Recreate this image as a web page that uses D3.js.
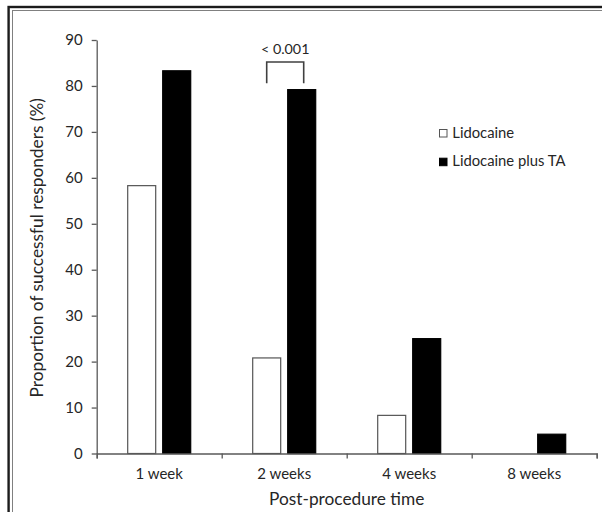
<!DOCTYPE html>
<html><head><meta charset="utf-8">
<script src="https://cdn.jsdelivr.net/npm/d3@7"></script>
<style>body{margin:0;background:#fff} svg{display:block;font-family:Lato,"Open Sans",sans-serif}</style>
</head><body><svg id="chart" width="602" height="512"></svg>
<script>
const categories = ["1 week", "2 weeks", "4 weeks", "8 weeks"];
const seriesNames = ["Lidocaine", "Lidocaine plus TA"];
const lidocaine = [58.3, 20.8, 8.3, 0];
const lidocaineTA = [83.3, 79.2, 25.0, 4.2];
const yTicks = [0, 10, 20, 30, 40, 50, 60, 70, 80, 90];
const yTitle = "Proportion of successful responders (%)";
const xTitle = "Post-procedure time";
const annotationCategory = "2 weeks";
const annotationLabel = "< 0.001";
const annotationLevels = [85.2, 80.6]; // bracket top, bracket leg ends

const svg = d3.select("#chart");
const plot = {left: 96.7, right: 596.7, top: 40, bottom: 453.5};
const axisColor = "#595959", textColor = "#262626";

// frame
svg.append("rect").attr("x", 8.6).attr("y", 7).attr("width", 700).attr("height", 600)
  .attr("fill", "none").attr("stroke", "#1c1c1c").attr("stroke-width", 2.4);
svg.append("rect").attr("x", 12.5).attr("y", 10.5).attr("width", 700).attr("height", 600)
  .attr("fill", "none").attr("stroke", "#808080").attr("stroke-width", 1);

const x = d3.scaleBand().domain(categories).range([plot.left, plot.right])
  .paddingInner(0.496).paddingOuter(0.248);
const xs = d3.scaleBand().domain(seriesNames).range([0, x.bandwidth()]).paddingInner(0.2);
const y = d3.scaleLinear().domain([0, 90]).range([plot.bottom, plot.top]);
const fills = {"Lidocaine": "#fff", "Lidocaine plus TA": "#000"};
const strokes = {"Lidocaine": "#555", "Lidocaine plus TA": "#000"};

const rows = categories.map((c, i) => ({cat: c, vals: [
  {s: seriesNames[0], v: lidocaine[i]}, {s: seriesNames[1], v: lidocaineTA[i]}]}));

const g = svg.append("g");
g.selectAll("g.grp").data(rows).join("g").attr("class", "grp")
  .attr("transform", d => `translate(${x(d.cat)},0)`)
  .selectAll("rect").data(d => d.vals).join("rect")
  .attr("x", d => xs(d.s)).attr("width", xs.bandwidth())
  .attr("y", d => y(d.v)).attr("height", d => y(0) - y(d.v))
  .attr("fill", d => fills[d.s]).attr("stroke", d => strokes[d.s]).attr("stroke-width", 1.2);

// y axis
const ya = svg.append("g").attr("transform", `translate(${plot.left},0)`)
  .call(d3.axisLeft(y).tickValues(yTicks).tickSize(5).tickSizeOuter(0).tickPadding(9));
ya.selectAll("path,line").attr("stroke", axisColor).attr("stroke-width", 1.3);
ya.selectAll("text").attr("fill", textColor).style("font-size", "15px").style("font-family", "Lato");

// x axis: boundary ticks
const xb = d3.scaleLinear().domain([0, categories.length]).range([plot.left, plot.right]);
const xa = svg.append("g").attr("transform", `translate(0,${plot.bottom})`)
  .call(d3.axisBottom(xb).ticks(categories.length).tickFormat("").tickSize(5).tickSizeOuter(5));
xa.selectAll("path,line").attr("stroke", axisColor).attr("stroke-width", 1.3);

const xl = svg.append("g").attr("transform", `translate(0,${plot.bottom})`)
  .call(d3.axisBottom(x).tickSize(0).tickPadding(0));
xl.select(".domain").remove();
xl.selectAll("text").attr("y", 25.5).attr("dy", 0).attr("fill", textColor)
  .style("font-size", "15px").style("font-family", "Lato");

// axis titles
svg.append("text").attr("transform", `translate(42.5,${(plot.top + plot.bottom) / 2 + 1}) rotate(-90)`)
  .attr("text-anchor", "middle").attr("fill", textColor).style("font-size", "17.3px").text(yTitle);
svg.append("text").attr("x", (plot.left + plot.right) / 2).attr("y", 504.5)
  .attr("text-anchor", "middle").attr("fill", textColor).style("font-size", "17.3px").text(xTitle);

// significance bracket
const bx0 = x(annotationCategory) + xs(seriesNames[0]) + xs.bandwidth() / 2;
const bx1 = x(annotationCategory) + xs(seriesNames[1]) + xs.bandwidth() / 2 + 2;
svg.append("path")
  .attr("d", `M${bx0},${y(annotationLevels[1])}V${y(annotationLevels[0])}H${bx1}V${y(annotationLevels[1])}`)
  .attr("fill", "none").attr("stroke", "#404040").attr("stroke-width", 1.6);
svg.append("text").attr("x", (bx0 + bx1) / 2).attr("y", y(annotationLevels[0]) - 8.5)
  .attr("text-anchor", "middle").attr("fill", textColor).style("font-size", "14.3px").text(annotationLabel);

// legend
const lg = svg.append("g").attr("transform", "translate(439,129)");
seriesNames.forEach((s, i) => {
  const r = lg.append("g").attr("transform", `translate(0,${i * 28.7})`);
  r.append("rect").attr("x", 0.5).attr("y", 0.5).attr("width", 7.5).attr("height", 7.5)
    .attr("fill", fills[s]).attr("stroke", i === 0 ? "#555" : "#000").attr("stroke-width", 1);
  r.append("text").attr("x", 13.3).attr("y", 8.7).attr("fill", textColor)
    .style("font-size", "14.8px").text(s);
});
</script></body></html>
